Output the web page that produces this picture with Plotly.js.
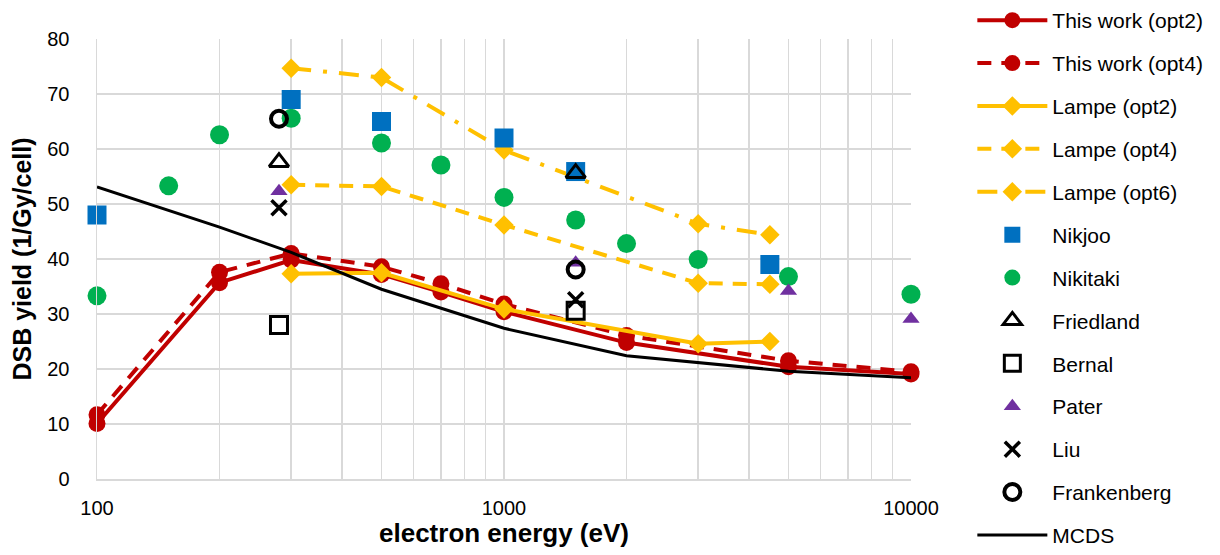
<!DOCTYPE html>
<html>
<head>
<meta charset="utf-8">
<script src="https://cdn.plot.ly/plotly-3.0.1.min.js"></script>
<style>html,body{margin:0;padding:0;background:#fff;}#chart{width:1220px;height:555px;}</style>
</head>
<body>
<div id="chart"></div>
<script>
// ---- data ----
const workE = [100, 200, 300, 500, 700, 1000, 2000, 5000, 10000];
const workOpt2 = [10.1, 35.7, 39.8, 37.2, 34.0, 30.4, 24.8, 20.4, 19.1];
const workOpt4 = [11.7, 37.6, 41.0, 38.6, 35.5, 31.8, 26.1, 21.5, 19.5];

const lampeE = [300, 500, 1000, 3000, 4500];
const lampeOpt2 = [37.3, 37.5, 30.9, 24.6, 25.0];
const lampeOpt4 = [53.5, 53.2, 46.2, 35.6, 35.4];
const lampeOpt6 = [74.7, 73.0, 59.8, 46.4, 44.4];

const nikjooE = [100, 300, 500, 1000, 1500, 4500];
const nikjooY = [48.0, 69.0, 65.0, 62.0, 55.9, 39.0];

const nikitakiE = [100, 150, 200, 300, 500, 700, 1000, 1500, 2000, 3000, 5000, 10000];
const nikitakiY = [33.3, 53.3, 62.6, 65.6, 61.1, 57.1, 51.2, 47.1, 42.8, 39.9, 36.8, 33.6];

const friedlandE = [280, 1500];
const friedlandY = [57.6, 55.6];

const bernalE = [280, 1500];
const bernalY = [28.0, 30.6];

const paterE = [280, 1500, 5000, 10000];
const paterY = [52.3, 39.3, 34.2, 29.1];

const liuE = [280, 1500];
const liuY = [49.3, 32.6];

const frankE = [280, 1500];
const frankY = [65.5, 38.1];

const mcdsE = [100, 200, 300, 500, 1000, 2000, 5000, 10000];
const mcdsY = [53.1, 45.8, 41.2, 34.5, 27.4, 22.4, 19.6, 18.4];

const xTicks = [100, 1000, 10000];
const xTickText = ['100', '1000', '10000'];

// ---- styles ----
const RED = '#C00000', YEL = '#FFC000', BLUE = '#0070C0', GREEN = '#00B050', PURP = '#7030A0';
const FONT = 'Liberation Sans, Arial, sans-serif';

function tr(name, x, y, extra) {
  return Object.assign({type: 'scatter', name: name, x: x, y: y, legendgroup: name, cliponaxis: false}, extra);
}

const traces = [
  tr('This work (opt2)', workE, workOpt2, {mode: 'lines+markers', line: {color: RED, width: 4}, marker: {color: RED, size: 17, symbol: 'circle'}}),
  tr('This work (opt4)', workE, workOpt4, {mode: 'lines+markers', line: {color: RED, width: 4, dash: '14px,10px'}, marker: {color: RED, size: 17, symbol: 'circle'}}),
  tr('Lampe (opt2)', lampeE, lampeOpt2, {mode: 'lines+markers', line: {color: YEL, width: 4}, marker: {color: YEL, size: 15, symbol: 'diamond'}}),
  tr('Lampe (opt4)', lampeE, lampeOpt4, {mode: 'lines+markers', line: {color: YEL, width: 4, dash: '14px,10px'}, marker: {color: YEL, size: 15, symbol: 'diamond'}}),
  tr('Lampe (opt6)', lampeE, lampeOpt6, {mode: 'lines+markers', line: {color: YEL, width: 4, dash: '20px,12px,4px,12px'}, marker: {color: YEL, size: 15, symbol: 'diamond'}}),
  tr('Nikjoo', nikjooE, nikjooY, {mode: 'markers', marker: {color: BLUE, size: 19, symbol: 'square'}}),
  tr('Nikitaki', nikitakiE, nikitakiY, {mode: 'markers', marker: {color: GREEN, size: 19, symbol: 'circle'}}),
  tr('Friedland', friedlandE, friedlandY, {mode: 'markers', marker: {color: '#000', size: 17, symbol: 'triangle-up-open', line: {color: '#000', width: 3}}}),
  tr('Bernal', bernalE, bernalY, {mode: 'markers', marker: {color: '#000', size: 17, symbol: 'square-open', line: {color: '#000', width: 3}}}),
  tr('Pater', paterE, paterY, {mode: 'markers', marker: {color: PURP, size: 15, symbol: 'triangle-up'}}),
  tr('Liu', liuE, liuY, {mode: 'markers', marker: {color: '#000', size: 15, symbol: 'x-thin-open', line: {color: '#000', width: 3.5}}}),
  tr('Frankenberg', frankE, frankY, {mode: 'markers', marker: {color: '#000', size: 16, symbol: 'circle-open', line: {color: '#000', width: 4}}}),
  tr('MCDS', mcdsE, mcdsY, {mode: 'lines', line: {color: '#000', width: 3}})
];

const layout = {
  width: 1220, height: 555,
  margin: {l: 97, r: 309, t: 39, b: 76, pad: 0},
  paper_bgcolor: '#fff', plot_bgcolor: '#fff',
  font: {family: FONT, size: 20, color: '#000'},
  showlegend: true,
  legend: {
    xref: 'container', yref: 'container',
    x: 0.797, xanchor: 'left', y: 1.0, yanchor: 'top',
    traceorder: 'grouped', tracegroupgap: 12.6, itemwidth: 70, maxheight: 1,
    font: {family: FONT, size: 21, color: '#000'},
    bgcolor: 'rgba(0,0,0,0)', borderwidth: 0
  },
  xaxis: {
    type: 'log', range: [2, 4],
    tickvals: xTicks, ticktext: xTickText,
    showgrid: true, gridcolor: '#D9D9D9', gridwidth: 1.5,
    minor: {dtick: 'D1', showgrid: true, gridcolor: '#D9D9D9', gridwidth: 1.5, ticks: ''},
    zeroline: false, showline: true, linecolor: '#D9D9D9', linewidth: 1.5, mirror: false,
    ticks: '', ticklabelstandoff: 10,
    tickfont: {family: FONT, size: 20, color: '#000'},
    title: {text: '<b>electron energy (eV)</b>', font: {family: FONT, size: 26, color: '#000'}, standoff: 6}
  },
  yaxis: {
    range: [0, 80], dtick: 10, tick0: 0,
    showgrid: true, gridcolor: '#D9D9D9', gridwidth: 1.5,
    zeroline: false, showline: true, linecolor: '#D9D9D9', linewidth: 1.5,
    ticks: '', ticklabelstandoff: 22,
    tickfont: {family: FONT, size: 20, color: '#000'},
    title: {text: '<b>DSB yield (1/Gy/cell)</b>', font: {family: FONT, size: 25, color: '#000'}, standoff: 8}
  }
};

Plotly.newPlot('chart', traces, layout, {displayModeBar: false, staticPlot: true});
</script>
</body>
</html>
